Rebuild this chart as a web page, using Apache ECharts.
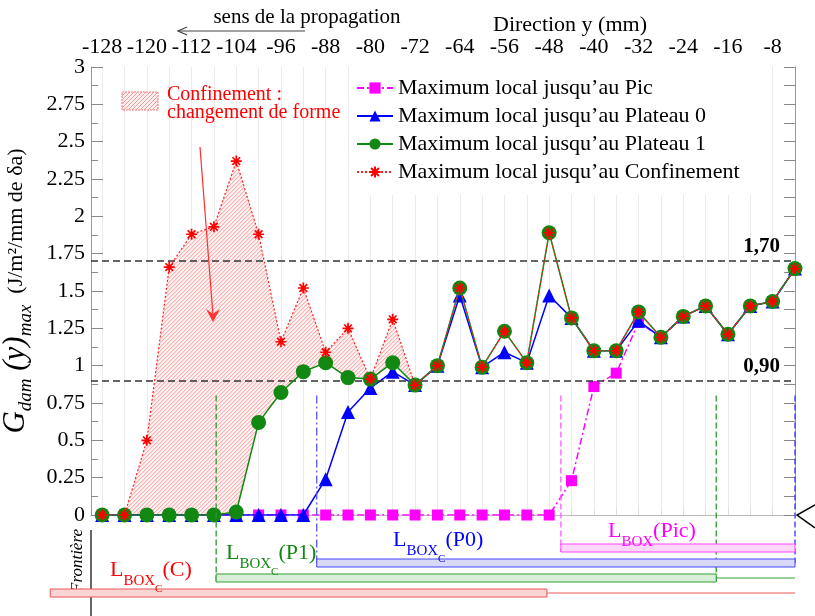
<!DOCTYPE html>
<html>
<head>
<meta charset="utf-8">
<script src="https://cdn.jsdelivr.net/npm/echarts@6/dist/echarts.min.js"></script>
<style>
	html, body { margin: 0; padding: 0; background: #fff; }
	#chart { width: 815px; height: 616px; }
</style>
</head>
<body>
<div id="chart"></div>
<script>
// positions along y (mm), one point every 4 mm
const positions = [-128, -124, -120, -116, -112, -108, -104, -100, -96, -92, -88, -84, -80, -76, -72, -68,
	-64, -60, -56, -52, -48, -44, -40, -36, -32, -28, -24, -20, -16, -12, -8, -4];
const xTickLabels = [-128, -120, -112, -104, -96, -88, -80, -72, -64, -56, -48, -40, -32, -24, -16, -8];

const picValues = [0, 0, 0, 0, 0, 0, 0, 0, 0, 0, 0, 0, 0, 0, 0, 0,
	0, 0, 0, 0, 0, 0.23, 0.86, 0.95, 1.29, 1.19, 1.33, 1.40, 1.21, 1.40, 1.43, 1.65];
const plateau0Values = [0, 0, 0, 0, 0, 0, 0, 0, 0, 0, 0.24, 0.69, 0.85, 0.96, 0.87, 1.00,
	1.47, 0.99, 1.09, 1.02, 1.47, 1.32, 1.10, 1.10, 1.30, 1.19, 1.33, 1.40, 1.21, 1.40, 1.43, 1.65];
const plateau1Values = [0, 0, 0, 0, 0, 0, 0.02, 0.62, 0.82, 0.96, 1.02, 0.92, 0.91, 1.02, 0.87, 1.00,
	1.52, 0.99, 1.23, 1.02, 1.89, 1.32, 1.10, 1.10, 1.36, 1.19, 1.33, 1.40, 1.21, 1.40, 1.43, 1.65];
const confinementValues = [0, 0, 0.50, 1.66, 1.88, 1.93, 2.37, 1.88, 1.16, 1.52, 1.09, 1.25, 0.91, 1.31, 0.87, 1.00,
	1.52, 0.99, 1.23, 1.02, 1.89, 1.32, 1.10, 1.10, 1.36, 1.19, 1.33, 1.40, 1.21, 1.40, 1.43, 1.65];

const seriesNames = [
	'Maximum local jusqu\u2019au Pic',
	'Maximum local jusqu\u2019au Plateau 0',
	'Maximum local jusqu\u2019au Plateau 1',
	'Maximum local jusqu\u2019au Confinement'
];

const thresholds = [1.70, 0.90];
const thresholdLabels = ['1,70', '0,90'];

// L_BOX extents (mm)
const boxC = [-137.3, -48.4];
const boxP1 = [-107.6, -18.1];
const boxP0 = [-89.6, -4];
const boxPic = [-45.9, -4];
const boxTop = 0.8; // value where the vertical markers start

const serif = "'Liberation Serif', 'DejaVu Serif', serif";

( function() {

	const hatchColor = '#f39393';
	const hatchBg = '#fff1f1';

	// "/" hatch segments covering a box
	const hatchSegments = function(x0, y0, x1, y1, step) {
		const segs = [];
		for( let c = x0 + y0; c <= x1 + y1; c += step ) {
			const sx = Math.max(x0, c - y1);
			const ex = Math.min(x1, c - y0);
			if( sx < ex ) segs.push({ x1: sx, y1: c - sx, x2: ex, y2: c - ex });
		}
		return segs;
	}

	const pairs = vals => positions.map((x, i) => [x, vals[i]]);

	const chart = echarts.init(document.getElementById('chart'));

	const axisGray = '#999';
	const starPath = 'path://M0,5L10,5M5,0L5,10M1.5,1.5L8.5,8.5M8.5,1.5L1.5,8.5';

	chart.setOption({
		animation: false,
		grid: { left: 91, right: 20, top: 67, bottom: 101, containLabel: false, outerBoundsMode: 'none' },
		legend: {
			data: seriesNames,
			orient: 'vertical',
			left: 350, top: 67,
			padding: [10, 25, 12, 6],
			itemGap: 6,
			itemWidth: 36, itemHeight: 14,
			backgroundColor: '#fff',
			textStyle: { fontFamily: serif, fontSize: 22, color: '#000' }
		},
		xAxis: [{
			type: 'value', position: 'top', min: -130, max: -4,
			axisLine: { show: true, lineStyle: { color: axisGray } },
			axisTick: { show: true, inside: false, length: 6, customValues: positions, lineStyle: { color: '#ddd' } },
			axisLabel: { customValues: xTickLabels, fontFamily: serif, fontSize: 22, color: '#000', margin: 9 },
			splitLine: { show: true, lineStyle: { color: '#ebebeb' } }
		}, {
			type: 'value', position: 'bottom', min: -130, max: -4,
			axisLine: { show: true, lineStyle: { color: '#bbb' } },
			axisTick: { show: false }, axisLabel: { show: false }, splitLine: { show: false }
		}],
		yAxis: [{
			type: 'value', position: 'left', min: 0, max: 3, interval: 0.25,
			axisLine: { show: true, lineStyle: { color: axisGray } },
			axisTick: { show: true, inside: true, length: 12, lineStyle: { color: '#888' } },
			minorTick: { show: true, splitNumber: 2, length: 7, lineStyle: { color: '#888' } },
			axisLabel: { fontFamily: serif, fontSize: 22, color: '#000', margin: 6 },
			splitLine: { show: false },
			name: '{g|G}{s|dam}{g| (y)}{s|max}{u|  (J/m\u00b2/mm de \u03b4a)}',
			nameLocation: 'middle',
			nameGap: 42,
			nameTextStyle: {
				rich: {
					g: { fontFamily: serif, fontStyle: 'italic', fontSize: 31, lineHeight: 34, verticalAlign: 'top', color: '#000' },
					s: { fontFamily: serif, fontStyle: 'italic', fontSize: 19, lineHeight: 20, padding: [16, 0, 0, 0], verticalAlign: 'top', color: '#000' },
					u: { fontFamily: serif, fontSize: 22, lineHeight: 26, padding: [5, 0, 0, 0], verticalAlign: 'top', color: '#000' }
				}
			}
		}, {
			type: 'value', position: 'right', min: 0, max: 3, interval: 0.25,
			axisLine: { show: true, lineStyle: { color: axisGray } },
			axisTick: { show: true, inside: true, length: 11, lineStyle: { color: '#888' } },
			minorTick: { show: true, splitNumber: 2, length: 11, lineStyle: { color: '#888' } },
			axisLabel: { show: false },
			splitLine: { show: false }
		}],
		series: [{
			// hatched zone between the confinement and plateau 1 curves
			name: 'zone', type: 'custom', silent: true, z: 1,
			data: positions.map((x, i) => [x, confinementValues[i], plateau1Values[i]]),
			encode: { x: 0, y: [1, 2] },
			renderItem: function(params, api) {
				if( params.dataIndex !== 0 ) return null;
				const top = positions.map((x, i) => api.coord([x, confinementValues[i]]));
				const bottom = positions.map((x, i) => api.coord([x, plateau1Values[i]])).reverse();
				const pts = top.concat(bottom);
				const xsP = pts.map(p => p[0]);
				const ysP = pts.map(p => p[1]);
				const segs = hatchSegments(Math.min(...xsP), Math.min(...ysP), Math.max(...xsP), Math.max(...ysP), 4);
				return {
					type: 'group',
					children: [{
						type: 'polygon',
						shape: { points: pts },
						style: { fill: hatchBg, stroke: null }
					}, {
						type: 'group',
						clipPath: { type: 'polygon', shape: { points: pts } },
						children: segs.map(s => ({ type: 'line', shape: s, style: { stroke: hatchColor, lineWidth: 0.9 } }))
					}]
				};
			}
		}, {
			name: seriesNames[0], type: 'line', data: pairs(picValues),
			symbol: 'rect', symbolSize: 11,
			itemStyle: { color: '#ff00ff' },
			lineStyle: { color: '#ff00ff', width: 1.5, type: [7, 3, 2, 3] }, z: 3
		}, {
			name: seriesNames[1], type: 'line', data: pairs(plateau0Values),
			symbol: 'triangle', symbolSize: 14,
			itemStyle: { color: '#0000ff' },
			lineStyle: { color: '#0000ff', width: 1.5 }, z: 4
		}, {
			name: seriesNames[2], type: 'line', data: pairs(plateau1Values),
			symbol: 'circle', symbolSize: 15,
			itemStyle: { color: '#118811' },
			lineStyle: { color: '#118811', width: 1.5 }, z: 5
		}, {
			name: seriesNames[3], type: 'line', data: pairs(confinementValues),
			symbol: starPath, symbolSize: 11,
			itemStyle: { color: '#ff0000', borderColor: '#ff0000', borderWidth: 1.7 },
			lineStyle: { color: '#ff2020', width: 1.2, type: [2, 2] }, z: 6,
			markLine: {
				silent: true,
				symbol: ['none', 'none'],
				lineStyle: { color: '#333', type: [7, 4], width: 1.5 },
				label: {
					position: 'insideEndTop', distance: [15, 4],
					fontFamily: serif, fontSize: 21, fontWeight: 'bold', color: '#000'
				},
				data: thresholds.map((v, i) => ({ yAxis: v, label: { formatter: thresholdLabels[i] } }))
			}
		}]
	});

	const toX = v => chart.convertToPixel({ xAxisIndex: 0 }, v);
	const toY = v => chart.convertToPixel({ yAxisIndex: 0 }, v);
	const yStart = toY(boxTop);

	const boxLabel = (text, x, y, color) => ({
		type: 'text', x: x, y: y, z: 50,
		style: {
			text: text, textAlign: 'left', textVerticalAlign: 'middle', fill: color,
			rich: {
				l: { fontFamily: serif, fontSize: 22, lineHeight: 26, verticalAlign: 'top', fill: color },
				b: { fontFamily: serif, fontSize: 15, lineHeight: 16, padding: [15, 0, 0, 0], verticalAlign: 'top', fill: color },
				c: { fontFamily: serif, fontSize: 11, lineHeight: 12, padding: [25, 0, 0, 0], verticalAlign: 'top', fill: color }
			}
		}
	});

	const bar = (range, y, fill, stroke) => ({
		type: 'rect', z: 40,
		shape: { x: toX(range[0]), y: y, width: toX(range[1]) - toX(range[0]), height: 8 },
		style: { fill: fill, stroke: stroke, lineWidth: 1 }
	});

	const vline = (v, y2, color, dash) => ({
		type: 'line', z: 30,
		shape: { x1: toX(v), y1: yStart, x2: toX(v), y2: y2 },
		style: { stroke: color, lineWidth: 1.3, lineDash: dash }
	});

	const hline = (v1, v2, y, color) => ({
		type: 'line', z: 30,
		shape: { x1: toX(v1), y1: y, x2: toX(v2), y2: y },
		style: { stroke: color, lineWidth: 1 }
	});

	// legend swatch for the hatched zone
	const swatch = { x: 122, y: 92, w: 36, h: 18 };
	const swatchLines = hatchSegments(swatch.x, swatch.y, swatch.x + swatch.w, swatch.y + swatch.h, 4)
		.map(s => ({ type: 'line', z: 61, shape: s, style: { stroke: hatchColor, lineWidth: 0.9 } }));

	chart.setOption({
		graphic: [
			// top titles
			{ type: 'text', x: 307, y: 17, style: { text: 'sens de la propagation', font: '21px ' + serif, fill: '#000', textAlign: 'center', textVerticalAlign: 'middle' } },
			{ type: 'line', shape: { x1: 305, y1: 31, x2: 178, y2: 31 }, style: { stroke: '#444', lineWidth: 1.2 } },
			{ type: 'polyline', shape: { points: [[187, 27], [178, 31], [187, 35]] }, style: { stroke: '#444', lineWidth: 1.2, fill: null } },
			{ type: 'text', x: 570, y: 25, style: { text: 'Direction y (mm)', font: '22px ' + serif, fill: '#000', textAlign: 'center', textVerticalAlign: 'middle' } },

			// confinement legend
			{ type: 'rect', z: 60, shape: { x: swatch.x, y: swatch.y, width: swatch.w, height: swatch.h }, style: { fill: hatchBg, stroke: null } },
			...swatchLines,
			{ type: 'rect', z: 62, shape: { x: swatch.x, y: swatch.y, width: swatch.w, height: swatch.h }, style: { fill: null, stroke: '#f77', lineWidth: 1, lineDash: [2, 1] } },
			{ type: 'text', z: 60, x: 167, y: 95, style: { text: 'Confinement :', font: '20px ' + serif, fill: '#ff0000', textVerticalAlign: 'middle' } },
			{ type: 'text', z: 60, x: 167, y: 113, style: { text: 'changement de forme', font: '20px ' + serif, fill: '#ff0000', textVerticalAlign: 'middle' } },

			// red arrow
			{ type: 'line', z: 60, shape: { x1: 200, y1: 147, x2: 213, y2: 316 }, style: { stroke: '#ff3030', lineWidth: 1.2 } },
			{ type: 'polygon', z: 60, shape: { points: [[206, 309], [213, 322], [220, 309], [213, 314]] }, style: { fill: '#ff3030' } },

			// vertical markers
			vline(boxP1[0], 582, '#2a9a2a', [6, 3]),
			vline(boxP0[0], 567, '#5555ff', [8, 3, 2, 3]),
			vline(boxPic[0], 552, '#ff55ff', [6, 3]),
			vline(boxP1[1], 582, '#2a9a2a', [6, 3]),
			vline(boxP0[1], 563, '#3333ff', [6, 3]),

			// L_BOX bars
			bar(boxPic, 544, '#fcd6f8', '#ff44ff'),
			bar(boxP0, 559, '#d8d8f8', '#4444ff'),
			bar(boxP1, 574, '#d8eed8', '#33a033'),
			bar(boxC, 589, '#fbd4d4', '#ee5555'),
			hline(boxP1[1], -4, 578, '#33a033'),
			hline(boxC[1], -4, 593, '#ee5555'),

			boxLabel('{l|L}{b|BOX}{c|C}{l|(C)}', 110, 572, '#ff0000'),
			boxLabel('{l|L}{b|BOX}{c|C}{l|(P1)}', 226, 555, '#118811'),
			boxLabel('{l|L}{b|BOX}{c|C}{l|(P0)}', 393, 542, '#0000ff'),
			boxLabel('{l|L}{b|BOX}{l|(Pic)}', 608, 533, '#ff00ff'),

			// frontier
			{ type: 'line', shape: { x1: toX(-130), y1: 530, x2: toX(-130), y2: 616 }, style: { stroke: '#000', lineWidth: 1.2 } },
			{ type: 'text', x: 78, y: 561, rotation: Math.PI / 2, style: { text: 'Fronti\u00e8re', font: 'italic 17px ' + serif, fill: '#000', textAlign: 'center', textVerticalAlign: 'middle' } },
			{ type: 'polyline', shape: { points: [[815, 505], [797, 515], [815, 528]] }, style: { stroke: '#000', lineWidth: 1.5, fill: null } }
		]
	});

}() );
</script>
</body>
</html>
